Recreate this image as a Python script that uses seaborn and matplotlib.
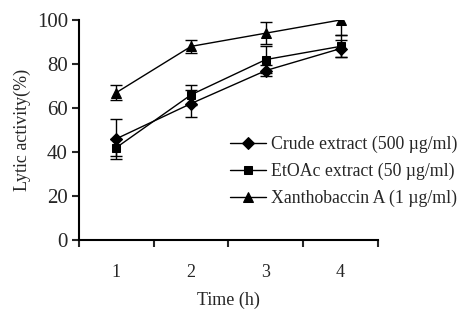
import pandas as pd
import numpy as np
import matplotlib
matplotlib.use('Agg')
import matplotlib.pyplot as plt
import seaborn as sns

# data
time_h = [1, 2, 3, 4]
crude = [46, 62, 77, 87]
crude_err = [9, 6, 2.5, 4]
etoac = [42, 66, 82, 88]
etoac_err = [4, 4.5, 6, 5]
xantho = [67, 88, 94, 100]
xantho_err = [3.5, 3, 5, 7]

labels = ['Crude extract (500 \u00b5g/ml)',
          'EtOAc extract (50 \u00b5g/ml)',
          'Xanthobaccin A (1 \u00b5g/ml)']
markers = ['D', 's', '^']
sizes = [6, 6, 7.5]

sns.set_style('ticks')
plt.rcParams['font.family'] = ['Liberation Serif', 'DejaVu Serif']

fig = plt.figure(figsize=(4.62, 3.12), dpi=100)
ax = fig.add_axes([0.171, 0.231, 0.647, 0.705])

series = [(crude, crude_err), (etoac, etoac_err), (xantho, xantho_err)]
for (vals, errs), lab, mk, ms in zip(series, labels, markers, sizes):
    df = pd.DataFrame({'Time': time_h, 'Activity': vals})
    ax.errorbar(time_h, vals, yerr=errs, fmt='none', ecolor='black',
                elinewidth=1, capsize=4, capthick=1)
    sns.lineplot(data=df, x='Time', y='Activity', ax=ax, color='black',
                 marker=mk, markersize=ms, markeredgecolor='black',
                 linewidth=1, label=lab)

ax.set_xlim(0.5, 4.5)
ax.set_ylim(0, 100)
ax.set_yticks([0, 20, 40, 60, 80, 100])
ax.set_xticks([1, 2, 3, 4])
ax.set_xticks([0.5, 1.5, 2.5, 3.5, 4.5], minor=True)
ax.tick_params(axis='x', which='major', length=0, pad=17, labelsize=13)
ax.tick_params(axis='x', which='minor', length=5, width=1.5, direction='out')
ax.tick_params(axis='y', length=5, width=1.5, labelsize=15, pad=3)
sns.despine(ax=ax)
for side in ['left', 'bottom']:
    ax.spines[side].set_linewidth(1.5)
    ax.spines[side].set_color('black')

ax.set_xlabel('Time (h)', fontsize=13, labelpad=8)
ax.set_ylabel('Lytic activity(%)', fontsize=13, labelpad=4)

ax.legend(loc='center left', bbox_to_anchor=(0.505, 0.31), frameon=False,
          borderpad=0, borderaxespad=0,
          fontsize=12.8, handlelength=2.0, handletextpad=0.3, labelspacing=0.55)

fig.savefig('out.png', dpi=100)
